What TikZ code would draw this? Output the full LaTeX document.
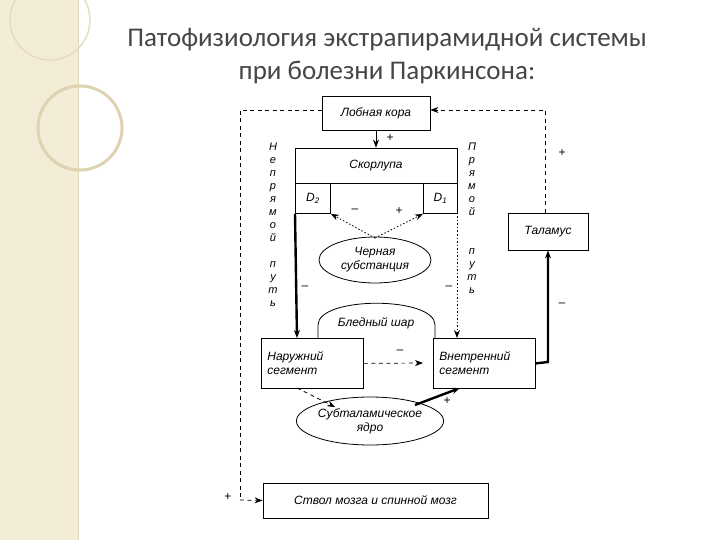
\documentclass[tikz,border=0pt]{standalone}
\usepackage{fontspec}
\setmainfont{Liberation Sans}
\newfontfamily\titlefont{Carlito}
\usetikzlibrary{shapes.geometric,arrows.meta}
\begin{document}
\begin{tikzpicture}[x=1pt,y=-1pt,
  box/.style={draw,line width=0.8pt,inner sep=0pt},
  lbl/.style={font=\itshape\fontsize{12}{14}\selectfont,align=center},
  sgn/.style={font=\fontsize{12}{13}\selectfont},
  dsh/.style={dash pattern=on 4pt off 3.5pt,line width=0.7pt},
  dot/.style={dash pattern=on 1.5pt off 2pt,line width=0.8pt},
  thick line/.style={line width=2.4pt},
  tip/.style={-{Stealth[length=8pt,width=6pt]}}]
\useasboundingbox (0,0) rectangle (720,540);
\fill[white] (0,0) rectangle (720,540);
% decorative strip
\fill[fill={rgb,255:red,243;green,236;blue,214}] (0,0) rectangle (78,540);
\draw[color={rgb,255:red,225;green,214;blue,184},line width=1pt] (78,0)--(78,540);
\draw[color={rgb,255:red,222;green,210;blue,178},line width=3pt] (80,128) circle (42);
\draw[color={rgb,255:red,230;green,220;blue,195},line width=1.5pt] (50,20) circle (40);
% title
\node[font=\titlefont\fontsize{27}{30}\selectfont,text={rgb,255:red,70;green,70;blue,70}] (t1) at (387,40) {Патофизиология экстрапирамидной системы};
\node[font=\titlefont\fontsize{27}{30}\selectfont,text={rgb,255:red,70;green,70;blue,70}] (t2) at (387,72) {при болезни Паркинсона:};
% boxes
\node[box,minimum width=108,minimum height=34,lbl] (lk) at (376,113) {Лобная кора};
\node[box,minimum width=162,minimum height=35,lbl] (sk) at (376,165.5) {Скорлупа};
\node[box,minimum width=35,minimum height=30,lbl,anchor=north west] (d2) at (295,183) {D\textsubscript{2}};
\node[box,minimum width=34,minimum height=30,lbl,anchor=north west] (d1) at (423,183) {D\textsubscript{1}};
\node[box,minimum width=80,minimum height=37,lbl] (th) at (548,231.5) {Таламус};
\node[draw,ellipse,line width=0.8pt,minimum width=112,minimum height=46,inner sep=0pt,lbl] (ns) at (375,260) {Черная\\субстанция};
\draw[line width=0.8pt] (318,338) -- (318,325) .. controls (318,296) and (435,296) .. (435,325) -- (435,338);
\node[lbl] (bs) at (376,323) {Бледный шар};
\node[box,minimum width=101,minimum height=50,lbl,align=left,anchor=north west,text width=90,inner xsep=6pt] (ns1) at (261,338) {Наружний\\сегмент};
\node[box,minimum width=101,minimum height=50,lbl,align=left,anchor=north west,text width=90,inner xsep=6pt] (vs) at (433,338) {Внетренний\\сегмент};
\node[draw,ellipse,line width=0.8pt,minimum width=144,minimum height=48,inner sep=0pt,lbl] (stn) at (370,421) {Субталамическое\\ядро};
\node[box,minimum width=225,minimum height=35,lbl] (st) at (375.5,500.5) {Ствол мозга и спинной мозг};
% vertical words
\node[lbl,align=center,anchor=north,font=\itshape\fontsize{11}{13}\selectfont] (np) at (273,139) {Н\\е\\п\\р\\я\\м\\о\\й\\ \\п\\у\\т\\ь};
\node[lbl,align=center,anchor=north,font=\itshape\fontsize{11}{13}\selectfont] (pp) at (472,139) {П\\р\\я\\м\\о\\й\\ \\ \\п\\у\\т\\ь};
% connectors
\coordinate (tl) at (240,110); \coordinate (bl) at (240,500);
\coordinate (tr) at (545,110);
\draw[dsh] (lk.west|-tl) -- (tl) -- (bl);
\draw[dsh,tip] (bl) -- (st.west);
\draw[dsh,tip] (th.north-|tr) -- (tr) -- (lk.east|-tr);
\draw[tip,line width=0.8pt] (lk.south) -- (sk.north);
\draw[thick line,tip] (d2.south west) -- (297,338);
\draw[dot,tip] (457,213) -- (457,338);
\draw[dot,tip] (375,238) -- (d2.south east);
\draw[dot,tip] (375,238) -- (d1.south west);
\draw[dsh,tip] (ns1.east) -- (423,363);
\draw[thick line,tip] (vs.east) -- (548,362) -- (th.south);
\draw[dsh,tip] (297,388) -- (335,407);
\draw[thick line,tip] (415,405) -- (460,388);
% signs
\node[sgn] (s1) at (390,138) {+};
\node[sgn] (s2) at (562,153) {+};
\node[sgn] (s3) at (355,211) {--};
\node[sgn] (s4) at (399,211) {+};
\node[sgn] (s5) at (305,288) {--};
\node[sgn] (s6) at (449,288) {--};
\node[sgn] (s7) at (562,305) {--};
\node[sgn] (s8) at (400,352) {--};
\node[sgn] (s9) at (447,401) {+};
\node[sgn] (s10) at (228,497) {+};
\end{tikzpicture}
\end{document}
